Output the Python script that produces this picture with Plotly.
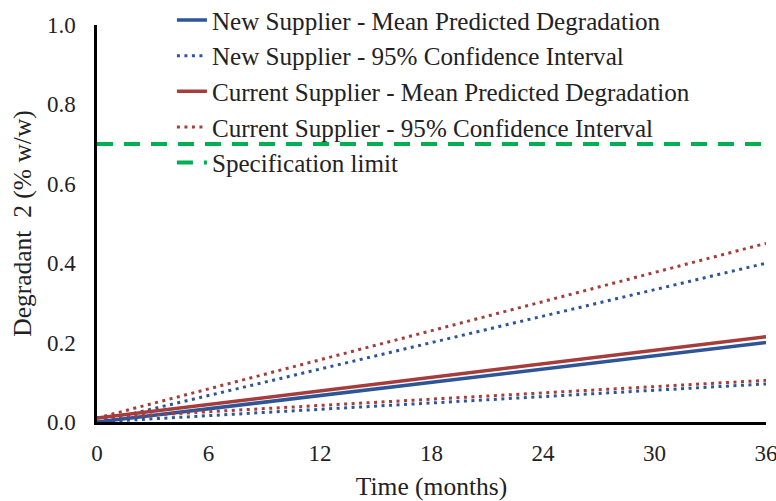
import plotly.graph_objects as go

months = [0, 36]
new_mean = [0.0, 0.20]
new_upper = [0.0, 0.40]
new_lower = [0.0, 0.096]
cur_mean = [0.01, 0.215]
cur_upper = [0.01, 0.45]
cur_lower = [0.01, 0.105]
spec_limit = [0.7, 0.7]

x_ticks = [0, 6, 12, 18, 24, 30, 36]
y_ticks = [0.0, 0.2, 0.4, 0.6, 0.8, 1.0]

BLUE = "#2E5597"
RED = "#A63D3D"
GREEN = "#00B050"
FONT = "Liberation Serif"

fig = go.Figure()
fig.add_trace(go.Scatter(x=months, y=new_mean, mode="lines",
                         name="New Supplier - Mean Predicted Degradation",
                         line=dict(color=BLUE, width=3.5), legendgroup="a"))
fig.add_trace(go.Scatter(x=months, y=new_upper, mode="lines",
                         name="New Supplier - 95% Confidence Interval",
                         line=dict(color=BLUE, width=3, dash="3px,4.5px"), legendgroup="b"))
fig.add_trace(go.Scatter(x=months, y=new_lower, mode="lines", showlegend=False,
                         line=dict(color=BLUE, width=3, dash="3px,4.5px"), legendgroup="b"))
fig.add_trace(go.Scatter(x=months, y=cur_mean, mode="lines",
                         name="Current Supplier - Mean Predicted Degradation",
                         line=dict(color=RED, width=3.5), legendgroup="c"))
fig.add_trace(go.Scatter(x=months, y=cur_upper, mode="lines",
                         name="Current Supplier - 95% Confidence Interval",
                         line=dict(color=RED, width=3, dash="3px,4.5px"), legendgroup="d"))
fig.add_trace(go.Scatter(x=months, y=cur_lower, mode="lines", showlegend=False,
                         line=dict(color=RED, width=3, dash="3px,4.5px"), legendgroup="d"))
fig.add_trace(go.Scatter(x=months, y=spec_limit, mode="lines",
                         name="Specification limit",
                         line=dict(color=GREEN, width=4, dash="16px,11px"), legendgroup="e"))

fig.update_layout(
    width=776, height=501,
    margin=dict(l=97, r=10, t=25, b=79, autoexpand=False),
    paper_bgcolor="white", plot_bgcolor="white",
    font=dict(family=FONT, size=23, color="#222222"),
    legend=dict(x=0.112, y=1.07, xanchor="left", yanchor="top",
                bgcolor="rgba(0,0,0,0)", traceorder="grouped",
                tracegroupgap=0, font=dict(size=25.1, family=FONT)),
    xaxis=dict(range=[0, 36], tickvals=x_ticks, showgrid=False, zeroline=False,
               showline=True, linecolor="black", linewidth=2.5, ticks="",
               tickfont=dict(size=23), ticklabelstandoff=9, ticklabeloverflow="allow",
               title=dict(text="Time (months)", font=dict(size=25.5), standoff=14)),
    yaxis=dict(range=[0, 1.0], tickvals=y_ticks, tickformat=".1f", showgrid=False,
               zeroline=False, showline=True, linecolor="black", linewidth=2.5,
               ticks="", tickfont=dict(size=23), ticklabelstandoff=14,
               title=dict(text="Degradant  2 (% w/w)", font=dict(size=25.5), standoff=8)),
)

# remove the browser's default 8px body margin so the figure fills the window
fig.write_html("out.html", config={"displayModeBar": False},
               post_script="document.body.style.margin='0';")
